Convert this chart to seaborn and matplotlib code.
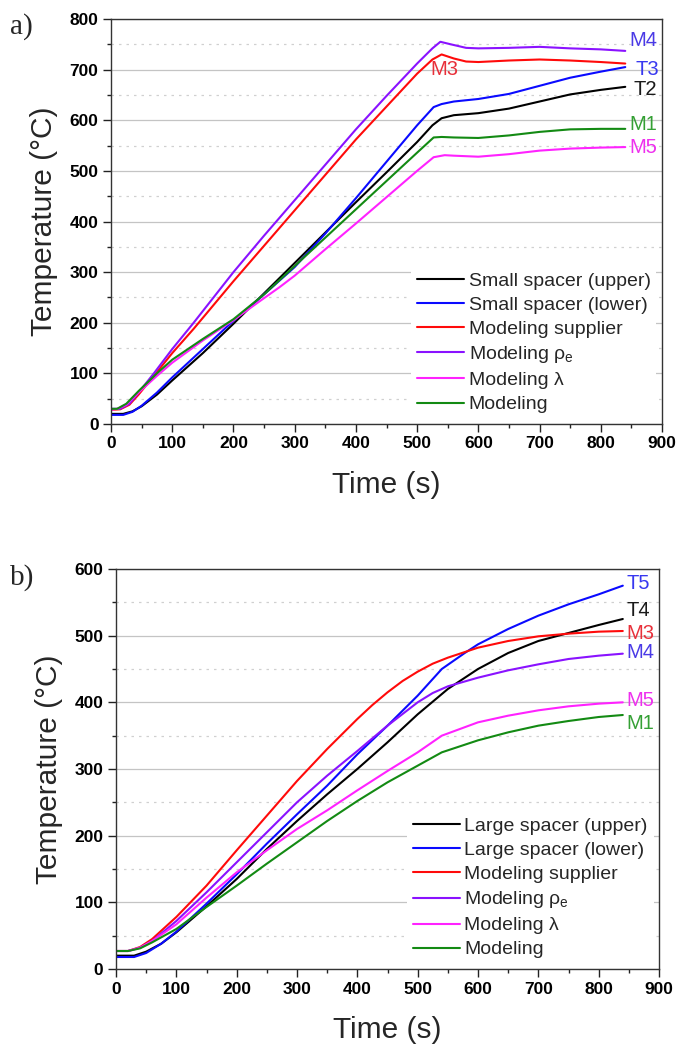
import numpy as np
import pandas as pd
import seaborn as sns
import matplotlib
matplotlib.use("Agg")
import matplotlib.pyplot as plt
from matplotlib.ticker import MultipleLocator
from matplotlib import font_manager

# ---------------- data : panel a (small spacer) ----------------
a_t_T2 = [0, 20, 35, 50, 75, 100, 150, 200, 250, 300, 350, 400, 450, 500, 525, 540, 560, 600, 650, 700, 750, 800, 840]
a_T2   = [20, 20, 25, 35, 58, 86, 140, 198, 258, 318, 378, 438, 497, 557, 590, 604, 610, 614, 623, 637, 651, 660, 666]

a_t_T3 = [0, 20, 35, 50, 75, 100, 150, 200, 250, 300, 350, 400, 450, 500, 527, 540, 560, 600, 650, 700, 750, 800, 840]
a_T3   = [18, 18, 24, 36, 62, 92, 148, 204, 256, 310, 376, 446, 518, 590, 626, 632, 637, 642, 652, 668, 684, 696, 705]

a_t_M3 = [0, 15, 30, 45, 70, 100, 135, 200, 250, 300, 350, 400, 450, 500, 525, 540, 560, 580, 600, 650, 700, 750, 800, 840]
a_M3   = [28, 29, 38, 58, 95, 140, 188, 282, 352, 422, 492, 562, 627, 692, 720, 730, 722, 716, 715, 718, 720, 718, 715, 712]

a_t_M4 = [0, 15, 30, 45, 70, 100, 135, 200, 250, 300, 350, 400, 450, 500, 525, 538, 555, 580, 600, 650, 700, 750, 800, 840]
a_M4   = [30, 30, 40, 62, 100, 148, 200, 300, 372, 442, 512, 582, 648, 712, 742, 755, 750, 743, 742, 743, 745, 742, 740, 737]

a_t_M5 = [0, 10, 25, 45, 75, 100, 150, 200, 240, 275, 300, 350, 400, 450, 500, 527, 545, 560, 600, 650, 700, 750, 800, 840]
a_M5   = [28, 30, 38, 62, 95, 121, 165, 205, 240, 270, 293, 345, 396, 448, 500, 527, 531, 530, 528, 533, 540, 544, 546, 547]

a_t_M1 = [0, 10, 25, 45, 75, 100, 150, 200, 250, 300, 350, 400, 450, 500, 527, 540, 560, 600, 650, 700, 750, 800, 840]
a_M1   = [30, 30, 40, 65, 100, 127, 168, 207, 256, 312, 368, 424, 480, 536, 566, 567, 566, 565, 570, 577, 582, 583, 583]

# ---------------- data : panel b (large spacer) ----------------
b_t_T4 = [0, 30, 50, 75, 100, 150, 200, 250, 300, 350, 400, 450, 500, 550, 600, 650, 700, 750, 800, 840]
b_T4   = [20, 20, 26, 38, 55, 94, 135, 180, 222, 262, 300, 340, 382, 420, 450, 474, 492, 504, 516, 525]

b_t_T5 = [0, 30, 50, 75, 100, 150, 200, 250, 300, 350, 400, 450, 500, 540, 578, 600, 650, 700, 750, 800, 840]
b_T5   = [18, 18, 24, 38, 56, 98, 142, 188, 232, 275, 322, 365, 410, 450, 474, 487, 510, 530, 547, 562, 575]

b_t_M3 = [0, 20, 40, 60, 100, 150, 200, 250, 300, 350, 400, 425, 450, 475, 500, 525, 550, 600, 650, 700, 750, 800, 840]
b_M3   = [27, 27, 33, 45, 78, 125, 178, 230, 282, 330, 375, 396, 415, 432, 446, 458, 467, 482, 492, 499, 503, 506, 507]

b_t_M4 = [0, 20, 40, 60, 100, 150, 200, 250, 300, 350, 400, 450, 500, 525, 550, 600, 650, 700, 750, 800, 840]
b_M4   = [27, 27, 32, 42, 72, 115, 160, 205, 250, 290, 327, 365, 400, 414, 424, 437, 448, 457, 465, 470, 473]

b_t_M5 = [0, 20, 40, 60, 100, 150, 200, 250, 300, 350, 400, 450, 500, 540, 600, 650, 700, 750, 800, 840]
b_M5   = [27, 27, 32, 42, 67, 107, 145, 178, 210, 238, 268, 297, 325, 350, 370, 380, 388, 394, 398, 400]

b_t_M1 = [0, 20, 40, 60, 100, 150, 200, 250, 300, 350, 400, 450, 500, 540, 600, 650, 700, 750, 800, 840]
b_M1   = [27, 27, 31, 40, 60, 93, 125, 158, 190, 222, 252, 280, 305, 325, 343, 355, 365, 372, 378, 381]

legend_a = ["Small spacer (upper)", "Small spacer (lower)", "Modeling supplier",
            r"Modeling $\rho_e$", "Modeling λ", "Modeling"]
legend_b = ["Large spacer (upper)", "Large spacer (lower)", "Modeling supplier",
            r"Modeling $\rho_e$", "Modeling λ", "Modeling"]
tags_a = ["T2", "T3", "M3", "M4", "M5", "M1"]
tags_b = ["T4", "T5", "M3", "M4", "M5", "M1"]

line_colors = ["#000000", "#0a0aff", "#ff0a0a", "#8a12ff", "#ff22ff", "#138a13"]
tag_colors = ["#1a1a1a", "#3838f0", "#e8303a", "#4a3ae6", "#ee30ee", "#35a035"]

# ---------------- style ----------------
sns.set_theme(style="white")
avail = {f.name for f in font_manager.fontManager.ttflist}
sans = "Liberation Sans" if "Liberation Sans" in avail else "DejaVu Sans"
serif = "Liberation Serif" if "Liberation Serif" in avail else "DejaVu Serif"
plt.rcParams["font.family"] = [sans, "DejaVu Sans"]
plt.rcParams["mathtext.fontset"] = "custom"
plt.rcParams["mathtext.rm"] = sans
plt.rcParams["mathtext.it"] = sans

fig = plt.figure(figsize=(6.78, 10.48), dpi=100)
ax_a = fig.add_axes([111 / 678, (1048 - 424) / 1048, 551 / 678, 405 / 1048])
ax_b = fig.add_axes([116 / 678, (1048 - 969) / 1048, 543 / 678, 400 / 1048])


def draw(ax, series, labels, tags, tag_pos, ymax):
    for (t, T), lab, c in zip(series, labels, line_colors):
        sns.lineplot(x=t, y=T, ax=ax, color=c, lw=1.5, label=lab, legend=False)
    ax.set_xlim(0, 900)
    ax.set_ylim(0, ymax)
    ax.xaxis.set_major_locator(MultipleLocator(100))
    ax.xaxis.set_minor_locator(MultipleLocator(50))
    ax.yaxis.set_major_locator(MultipleLocator(100))
    ax.yaxis.set_minor_locator(MultipleLocator(50))
    ax.set_axisbelow(True)
    ax.grid(False)
    ax.grid(which="major", axis="y", color="#c4c4c4", lw=0.9)
    ax.grid(which="minor", axis="y", color="#d0d0d0", lw=0.9, ls=(0, (2, 4)))
    for s in ax.spines.values():
        s.set_color("#333333")
        s.set_linewidth(1.0)
    ax.tick_params(which="both", direction="out", bottom=True, left=True,
                   top=False, right=False, colors="#222222", width=1.0)
    ax.tick_params(which="major", length=6, labelsize=12.5, pad=3)
    ax.tick_params(which="minor", length=3)
    for lbl in ax.get_xticklabels() + ax.get_yticklabels():
        lbl.set_fontweight("bold")
        lbl.set_color("black")
    ax.set_xlabel("Time (s)", fontsize=21.5, labelpad=14)
    ax.set_ylabel("Temperature (°C)", fontsize=21.5, labelpad=8)
    handles = ax.get_lines()[:6]
    ax.legend(handles, labels, loc="lower right", bbox_to_anchor=(0.99, 0.012),
              fontsize=14, frameon=True, facecolor="white", edgecolor="none",
              framealpha=1.0, handlelength=2.4, handletextpad=0.25,
              labelspacing=0.33, borderpad=0.3, borderaxespad=0.0)
    for tag, (x, y), c in zip(tags, tag_pos, tag_colors):
        ax.text(x, y, tag, color=c, fontsize=14.5, ha="left", va="center")


series_a = [(a_t_T2, a_T2), (a_t_T3, a_T3), (a_t_M3, a_M3), (a_t_M4, a_M4), (a_t_M5, a_M5), (a_t_M1, a_M1)]
series_b = [(b_t_T4, b_T4), (b_t_T5, b_T5), (b_t_M3, b_M3), (b_t_M4, b_M4), (b_t_M5, b_M5), (b_t_M1, b_M1)]

pos_a = [(853, 660), (856, 700), (521, 700), (846, 758), (846, 546), (846, 592)]
pos_b = [(846, 538), (846, 578), (846, 503), (846, 474), (846, 402), (846, 368)]

draw(ax_a, series_a, legend_a, tags_a, pos_a, 800)
draw(ax_b, series_b, legend_b, tags_b, pos_b, 600)

fig.text(10 / 678, 1 - 27 / 1048, "a)", family=serif, fontsize=21, va="center", ha="left")
fig.text(10 / 678, 1 - 578 / 1048, "b)", family=serif, fontsize=21, va="center", ha="left")

fig.savefig("out.png", dpi=100)
